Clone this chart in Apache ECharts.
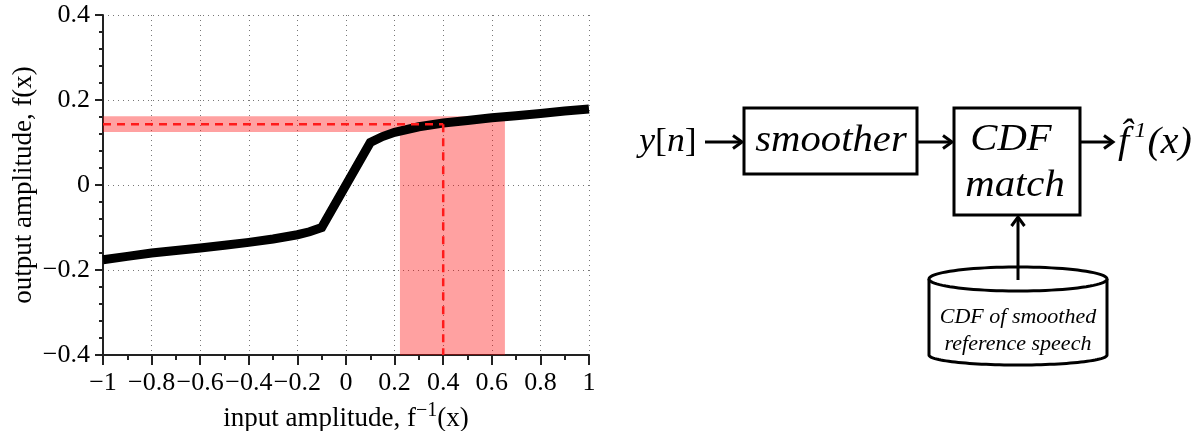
<!DOCTYPE html>
<html><head><meta charset="utf-8">
<script src="https://cdn.jsdelivr.net/npm/echarts@6.0.0/dist/echarts.min.js"></script>
<style>html,body{margin:0;padding:0;background:#fff}#c{width:1198px;height:431px}</style>
</head><body><div id="c"></div><script>
// ---- data ----
const curveX = [-1, -0.9, -0.8, -0.7, -0.6, -0.5, -0.4, -0.3, -0.2, -0.15, -0.1, 0.1, 0.15, 0.2, 0.3, 0.4, 0.5, 0.6, 0.7, 0.8, 0.9, 1];
const curveY = [-0.176, -0.168, -0.160, -0.154, -0.148, -0.142, -0.135, -0.127, -0.117, -0.110, -0.100, 0.100, 0.114, 0.124, 0.137, 0.146, 0.152, 0.158, 0.163, 0.168, 0.174, 0.179];
const inputPoint = 0.4;
const outputPoint = 0.143;
const inputBand = [0.222, 0.654];
const outputBand = [0.125, 0.162];
const xRange = [-1, 1];
const yRange = [-0.4, 0.4];
const xAxisTitle = '{a|input amplitude, f}{s|\u22121}{a|(x)}';
const yAxisTitle = 'output amplitude, f(x)';
const diagramInput = '{i|y}{r|[}{i|n}{r|]}';
const diagramSmoother = 'smoother';
const diagramMatch = ['CDF', 'match'];
const diagramOutput = '{a|f\u0302}{s|1}{a|(x)}';
const diagramStore = ['CDF of smoothed', 'reference speech'];

const SERIF = '"Liberation Serif", "Times New Roman", serif';
const fmt = v => (v === 0 ? '0' : String(+v.toFixed(2)).replace('-', '\u2212'));

const chart = echarts.init(document.getElementById('c'), null, {renderer: 'canvas'});

function arrow(x1, y1, x2, y2) {
  const dx = x2 - x1, dy = y2 - y1, L = Math.hypot(dx, dy);
  const ux = dx / L, uy = dy / L, px = -uy, py = ux;
  const hl = 9, hw = 6.5;
  return [
    {type: 'line', shape: {x1, y1, x2: x2 - ux * 1.5, y2: y2 - uy * 1.5}, style: {stroke: '#000', lineWidth: 3}, z: 100},
    {type: 'polyline', shape: {points: [[x2 - ux * hl + px * hw, y2 - uy * hl + py * hw], [x2, y2], [x2 - ux * hl - px * hw, y2 - uy * hl - py * hw]]},
      style: {stroke: '#000', lineWidth: 3, fill: null, lineJoin: 'miter'}, z: 100}
  ];
}
function ellipsePts(cx, cy, rx, ry, a0, a1, n) {
  const pts = [];
  for (let k = 0; k <= n; k++) {
    const t = a0 + (a1 - a0) * k / n;
    pts.push([cx + rx * Math.cos(t), cy + ry * Math.sin(t)]);
  }
  return pts;
}
const cylCx = 1018, cylRx = 89, cylTop = 279, cylBot = 355, cylRy = 12;
const bodyPts = [[cylCx - cylRx, cylTop]].concat(ellipsePts(cylCx, cylBot, cylRx, 10, Math.PI, 0, 60)).concat([[cylCx + cylRx, cylTop]]);
const topPts = ellipsePts(cylCx, cylTop, cylRx, cylRy, 0, Math.PI * 2, 90);

const bigItalic = {fontFamily: SERIF, fontStyle: 'italic', fontSize: 37, fill: '#000', align: 'center', verticalAlign: 'middle'};

const graphics = [
  {type: 'text', x: 668, y: 142, scaleX: 1.05, z: 100, style: {text: diagramInput, fontFamily: SERIF, fontSize: 34, fill: '#000', align: 'center', verticalAlign: 'middle',
    rich: {i: {fontFamily: SERIF, fontStyle: 'italic', fontSize: 34, fill: '#000'}, r: {fontFamily: SERIF, fontSize: 34, fill: '#000'}}}},
  ...arrow(705, 142, 742, 142),
  {type: 'rect', shape: {x: 744, y: 108, width: 173, height: 66}, style: {stroke: '#000', lineWidth: 3, fill: '#fff'}, z: 99},
  {type: 'text', x: 831, y: 141, scaleX: 1.1, z: 100, style: Object.assign({text: diagramSmoother}, bigItalic)},
  ...arrow(918, 142, 952, 142),
  {type: 'rect', shape: {x: 954, y: 108, width: 126, height: 107}, style: {stroke: '#000', lineWidth: 3, fill: '#fff'}, z: 99},
  {type: 'text', x: 1011, y: 140, scaleX: 1.1, z: 100, style: Object.assign({text: diagramMatch[0]}, bigItalic)},
  {type: 'text', x: 1015, y: 186, scaleX: 1.1, z: 100, style: Object.assign({text: diagramMatch[1]}, bigItalic)},
  ...arrow(1081, 142, 1113, 142),
  {type: 'text', x: 1118, y: 141, scaleX: 1.08, z: 100, style: {text: diagramOutput, fontFamily: SERIF, fontSize: 37, fill: '#000', align: 'left', verticalAlign: 'middle',
    rich: {a: {fontFamily: SERIF, fontStyle: 'italic', fontSize: 37, fill: '#000', verticalAlign: 'bottom', lineHeight: 42},
           s: {fontFamily: SERIF, fontStyle: 'italic', fontSize: 22, fill: '#000', verticalAlign: 'top', lineHeight: 28, padding: [0, 1, 0, 5]}}}},
  {type: 'polygon', shape: {points: bodyPts}, style: {fill: '#fff', stroke: null}, z: 97},
  {type: 'polyline', shape: {points: bodyPts}, style: {stroke: '#000', lineWidth: 3, fill: null}, z: 98},
  {type: 'polygon', shape: {points: topPts}, style: {stroke: '#000', lineWidth: 3, fill: '#fff'}, z: 99},
  ...arrow(1018, 280, 1018, 217),
  {type: 'text', x: 1018, y: 317, z: 100, style: {text: diagramStore[0], fontFamily: SERIF, fontStyle: 'italic', fontSize: 22, fill: '#000', align: 'center', verticalAlign: 'middle'}},
  {type: 'text', x: 1018, y: 344, z: 100, style: {text: diagramStore[1], fontFamily: SERIF, fontStyle: 'italic', fontSize: 22, fill: '#000', align: 'center', verticalAlign: 'middle'}}
];

const axisCommon = {
  type: 'value',
  axisLine: {show: true, onZero: false, lineStyle: {color: '#222', width: 2}},
  axisTick: {show: true, inside: false, lineStyle: {color: '#222', width: 2}},
  minorTick: {show: true, lineStyle: {color: '#222', width: 2}},
  splitLine: {show: true, lineStyle: {color: '#777', width: 1, type: [1, 4]}},
  axisLabel: {color: '#000', fontFamily: SERIF, fontSize: 26, formatter: fmt},
  nameLocation: 'middle',
  nameTextStyle: {color: '#000', fontFamily: SERIF, fontSize: 27}
};

const option = {
  animation: false,
  backgroundColor: '#fff',
  grid: {left: 103, right: 609, top: 15, bottom: 76, containLabel: false, outerBoundsMode: 'none'},
  xAxis: Object.assign({}, axisCommon, {
    min: xRange[0], max: xRange[1], interval: 0.2,
    axisTick: Object.assign({}, axisCommon.axisTick, {length: 10}),
    minorTick: Object.assign({}, axisCommon.minorTick, {splitNumber: 2, length: 5}),
    axisLabel: Object.assign({}, axisCommon.axisLabel, {margin: 15}),
    name: xAxisTitle, nameGap: 43,
    nameTextStyle: {color: '#000', fontFamily: SERIF, fontSize: 27,
      rich: {a: {fontFamily: SERIF, fontSize: 27, color: '#000', verticalAlign: 'bottom', lineHeight: 32},
             s: {fontFamily: SERIF, fontSize: 20, color: '#000', verticalAlign: 'top', lineHeight: 21}}}
  }),
  yAxis: Object.assign({}, axisCommon, {
    min: yRange[0], max: yRange[1], interval: 0.2,
    axisTick: Object.assign({}, axisCommon.axisTick, {length: 8}),
    minorTick: Object.assign({}, axisCommon.minorTick, {splitNumber: 5, length: 4}),
    axisLabel: Object.assign({}, axisCommon.axisLabel, {margin: 13}),
    name: yAxisTitle, nameGap: 66
  }),
  series: [
    {
      type: 'line', name: 'bands', data: [], silent: true, z: 1,
      markArea: {
        silent: true,
        itemStyle: {color: 'rgba(255,0,0,0.37)', opacity: 1, borderWidth: 0},
        data: [
          [{xAxis: xRange[0], yAxis: outputBand[0]}, {xAxis: inputBand[0], yAxis: outputBand[1]}],
          [{xAxis: inputBand[0], yAxis: yRange[0]}, {xAxis: inputBand[1], yAxis: outputBand[1]}]
        ]
      }
    },
    {
      type: 'line', name: 'f(x)', showSymbol: false, symbol: 'none', z: 3,
      lineStyle: {color: '#000', width: 9, join: 'miter'},
      data: curveX.map((x, i) => [x, curveY[i]])
    },
    {
      type: 'line', name: 'hdash', showSymbol: false, symbol: 'none', z: 4,
      lineStyle: {color: '#ff1a1a', width: 2.5, type: [8, 6]},
      data: [[xRange[0], outputPoint], [inputPoint, outputPoint]]
    },
    {
      type: 'line', name: 'vdash', showSymbol: false, symbol: 'none', z: 4,
      lineStyle: {color: '#ff1a1a', width: 2.5, type: [8, 6]},
      data: [[inputPoint, outputPoint], [inputPoint, yRange[0]]]
    }
  ],
  graphic: graphics
};
chart.setOption(option);
</script></body></html>
